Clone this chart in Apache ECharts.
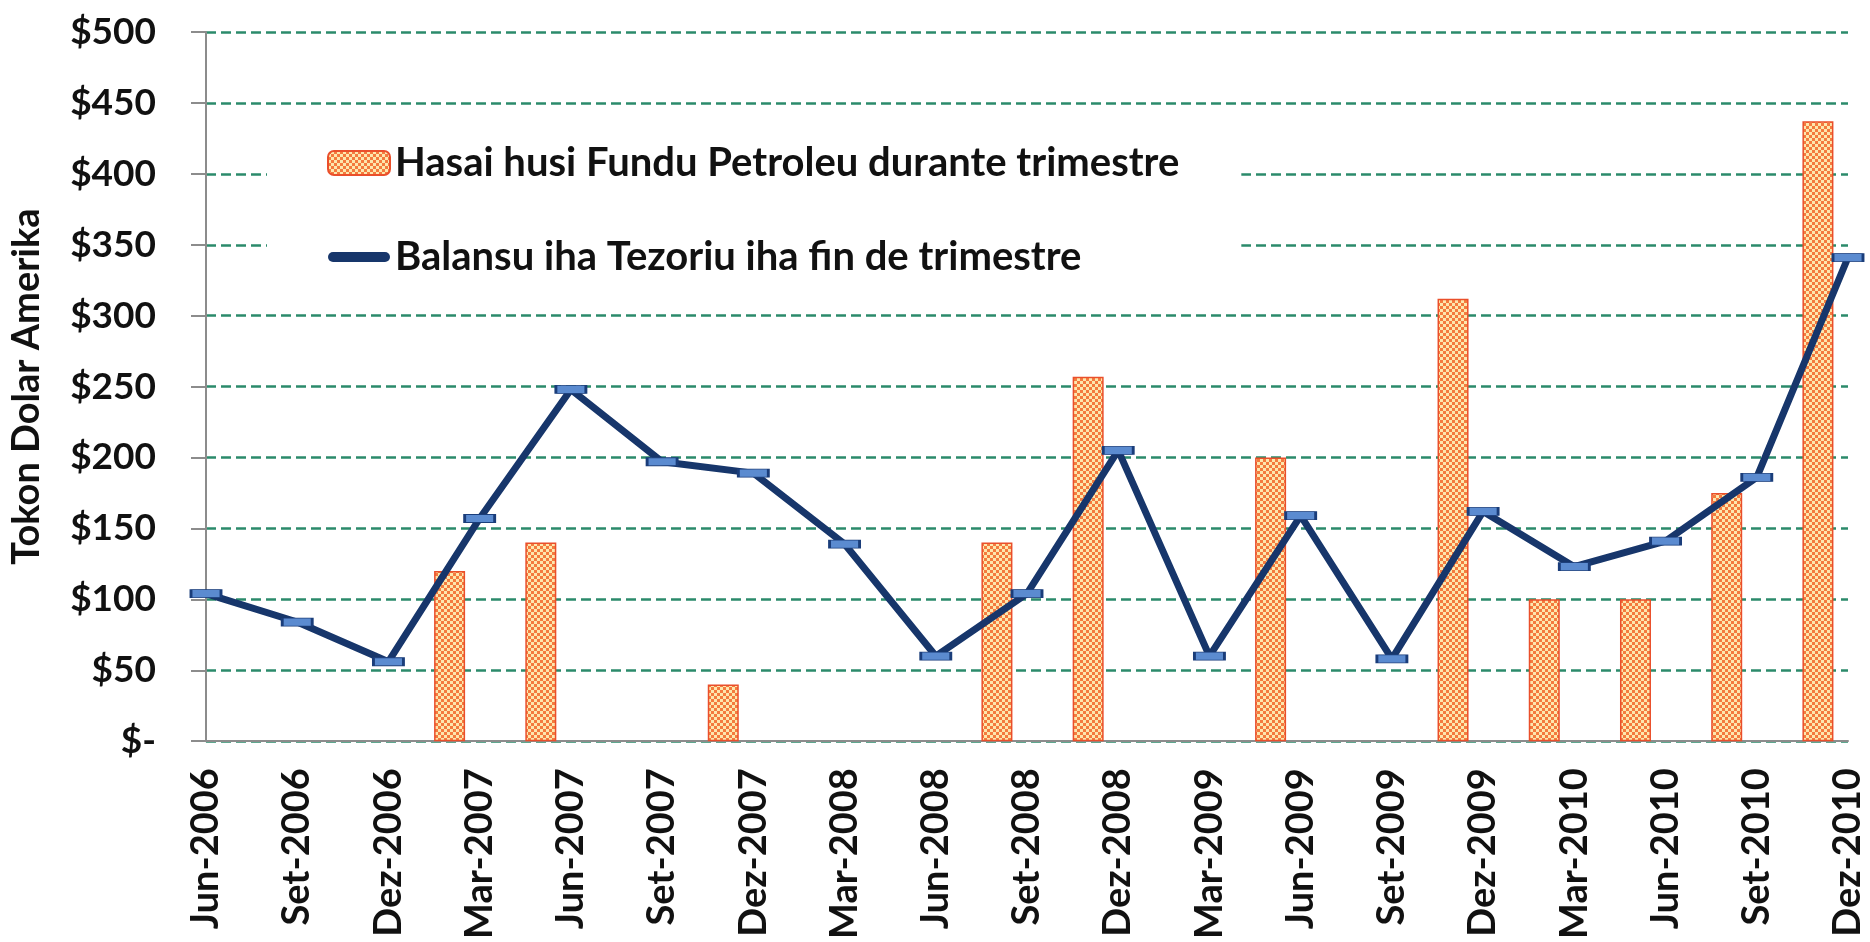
<!DOCTYPE html>
<html>
<head>
<meta charset="utf-8">
<title>Fundu Petroleu</title>
<script src="https://cdn.jsdelivr.net/npm/echarts@6.0.0/dist/echarts.min.js"></script>
<style>
html, body { margin: 0; padding: 0; background: #fff; }
#chart { width: 1870px; height: 942px; }
</style>
</head>
<body>
<div id="chart"></div>
<script>
// quarters on the x axis
var categories = ['Jun-2006', 'Set-2006', 'Dez-2006', 'Mar-2007', 'Jun-2007', 'Set-2007', 'Dez-2007',
    'Mar-2008', 'Jun-2008', 'Set-2008', 'Dez-2008', 'Mar-2009', 'Jun-2009', 'Set-2009', 'Dez-2009',
    'Mar-2010', 'Jun-2010', 'Set-2010', 'Dez-2010']
// bars: transfers from the Petroleum Fund during the quarter (null = no transfer)
var fundTransfers = [null, null, null, 120, 140, null, 40, null, null, 140, 257, null, 200, null, 312, 100, 100, 175, 437]
// line: Treasury balance at end of quarter
var treasuryBalance = [104, 84, 56, 157, 248, 197, 189, 139, 60, 104, 205, 60, 159, 58, 162, 123, 141, 186, 341]
// y axis ticks
var yMin = 0, yMax = 500, yStep = 50

var barName = 'Hasai husi Fundu Petroleu durante trimestre'
var lineName = 'Balansu iha Tezoriu iha fin de trimestre'
var font = 'Lato'
var navy = '#17366b'

// small checker tile for the bars (orange dots on cream)
function checkerTile(){
    var c = document.createElement('canvas')
    c.width = 6
    c.height = 6
    var ctx = c.getContext('2d')
    ctx.fillStyle = '#fde7ad'
    ctx.fillRect(0, 0, 6, 6)
    ctx.fillStyle = '#f47b3e'
    ctx.fillRect(0, 0, 3, 3)
    ctx.fillRect(3, 3, 3, 3)
    return c
}

var myChart = echarts.init(document.getElementById('chart'))
var option = {
    backgroundColor: '#fff',
    animation: false,
    grid: {
        left: 203,
        right: 22,
        top: 32,
        bottom: 198,
        containLabel: false
    },
    legend: {
        orient: 'vertical',
        left: 267,
        top: 123,
        padding: [19, 62, 19, 60],
        backgroundColor: '#fff',
        itemWidth: 62,
        itemHeight: 24,
        itemGap: 52,
        textStyle: {
            fontFamily: font,
            fontWeight: 'bold',
            fontSize: 40,
            lineHeight: 42,
            color: '#111'
        },
        data: [
            barName,
            {
                name: lineName,
                // thick rounded stroke like the original legend key
                icon: 'path://M5,0 L57,0 A5,5 0 0 1 57,10 L5,10 A5,5 0 0 1 5,0 Z',
                itemStyle: { color: navy, borderWidth: 0 }
            }
        ]
    },
    xAxis: {
        type: 'category',
        boundaryGap: false,
        data: categories,
        axisLine: {
            lineStyle: { color: '#8c8c8c', width: 2 }
        },
        axisTick: { show: false },
        axisLabel: {
            rotate: 90,
            margin: 27,
            interval: 0,
            fontFamily: font,
            fontWeight: 'bold',
            fontSize: 38,
            color: '#111'
        }
    },
    yAxis: {
        type: 'value',
        min: yMin,
        max: yMax,
        interval: yStep,
        name: 'Tokon Dolar Amerika',
        nameLocation: 'middle',
        nameGap: 160,
        nameTextStyle: {
            fontFamily: font,
            fontWeight: 'bold',
            fontSize: 38,
            color: '#111'
        },
        axisLine: {
            show: true,
            lineStyle: { color: '#8c8c8c', width: 2 }
        },
        axisTick: {
            show: true,
            length: 15,
            lineStyle: { color: '#8c8c8c', width: 2 }
        },
        axisLabel: {
            margin: 50,
            fontFamily: font,
            fontWeight: 'bold',
            fontSize: 37,
            color: '#111',
            formatter: function(v){
                return v === 0 ? '$-' : '$' + v
            }
        },
        splitLine: {
            show: true,
            lineStyle: {
                color: '#2b8a6b',
                width: 2.5,
                type: [10, 5]
            }
        }
    },
    series: [
        {
            name: barName,
            type: 'bar',
            barWidth: 31,
            barGap: '94%',
            itemStyle: {
                color: { image: checkerTile(), repeat: 'repeat' },
                borderColor: '#ea4f2b',
                borderWidth: 1.5
            },
            data: fundTransfers
        },
        {
            // empty spacer so the bars sit left of each quarter mark, as in the original
            name: 'spacer',
            type: 'bar',
            barWidth: 31,
            silent: true,
            data: categories.map(function(){ return '-' })
        },
        {
            name: lineName,
            type: 'line',
            z: 5,
            symbol: 'rect',
            symbolSize: [30, 8],
            showAllSymbol: true,
            lineStyle: { color: navy, width: 7 },
            itemStyle: {
                color: '#5b8bd0',
                borderColor: '#1a3d7a',
                borderWidth: 1.5
            },
            data: treasuryBalance
        }
    ]
}
myChart.setOption(option)
</script>
</body>
</html>
